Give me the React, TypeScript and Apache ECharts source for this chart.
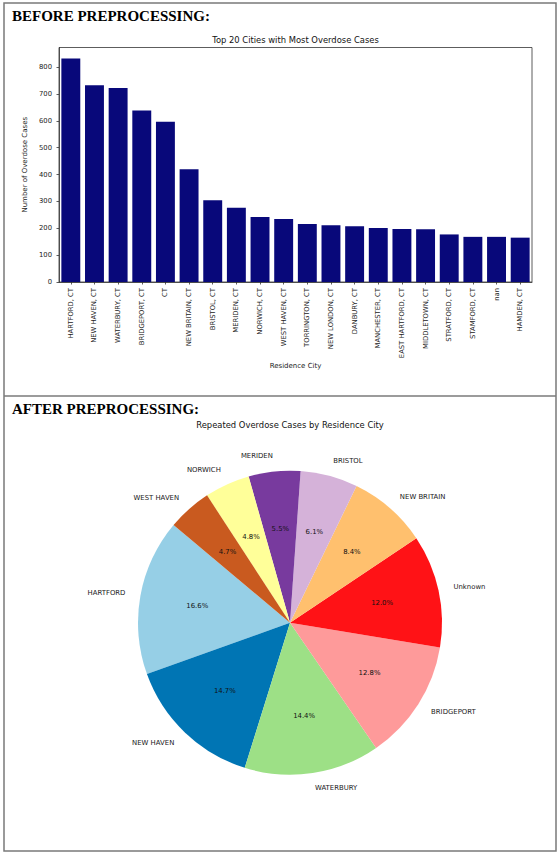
import React, { useEffect, useRef } from "react";
import * as echarts from "echarts";

const cities = [
  "HARTFORD, CT", "NEW HAVEN, CT", "WATERBURY, CT", "BRIDGEPORT, CT", "CT",
  "NEW BRITAIN, CT", "BRISTOL, CT", "MERIDEN, CT", "NORWICH, CT", "WEST HAVEN, CT",
  "TORRINGTON, CT", "NEW LONDON, CT", "DANBURY, CT", "MANCHESTER, CT", "EAST HARTFORD, CT",
  "MIDDLETOWN, CT", "STRATFORD, CT", "STAMFORD, CT", "nan", "HAMDEN, CT",
];
const caseCounts = [832, 732, 722, 638, 596, 420, 304, 276, 242, 234, 216, 211, 207, 201, 197, 196, 177, 168, 168, 165];
const yTicks = [0, 100, 200, 300, 400, 500, 600, 700, 800];

const pieCities = ["HARTFORD", "NEW HAVEN", "WATERBURY", "BRIDGEPORT", "Unknown", "NEW BRITAIN", "BRISTOL", "MERIDEN", "NORWICH", "WEST HAVEN"];
const pieShares = [16.6, 14.7, 14.4, 12.8, 12.0, 8.4, 6.1, 5.5, 4.8, 4.7];
const pieColors = ["#96cfe6", "#0075b4", "#9de086", "#fe9a9a", "#ff1216", "#ffc06e", "#d5b2d9", "#783a9e", "#ffff99", "#c95a1f"];

export default function App() {
  const ref = useRef<HTMLDivElement>(null);
  useEffect(() => {
    document.body.style.margin = "0";
    const chart = echarts.init(ref.current!, null, { renderer: "svg" });
    const font = "DejaVu Sans";
    const pieCenter = [290, 622.7];
    const pieR = 152;
    chart.setOption({
      animation: false,
      textStyle: { fontFamily: font },
      graphic: [
        { type: "rect", shape: { x: 4, y: 3, width: 552, height: 848 }, style: { fill: "none", stroke: "#7a7a7a", lineWidth: 1.5 } },
        { type: "line", shape: { x1: 4, y1: 396, x2: 556, y2: 396 }, style: { stroke: "#7a7a7a", lineWidth: 1.5 } },
        { type: "text", x: 12, y: 15.5, style: { text: "BEFORE PREPROCESSING:", font: 'bold 15px "Liberation Serif"', fill: "#000", align: "left", verticalAlign: "middle" } },
        { type: "text", x: 12, y: 408.5, style: { text: "AFTER PREPROCESSING:", font: 'bold 15px "Liberation Serif"', fill: "#000", align: "left", verticalAlign: "middle" } },
        { type: "text", x: 295.5, y: 40, style: { text: "Top 20 Cities with Most Overdose Cases", font: '8.4px "DejaVu Sans"', fill: "#111", align: "center", verticalAlign: "middle" } },
        { type: "text", x: 290, y: 425, style: { text: "Repeated Overdose Cases by Residence City", font: '8.4px "DejaVu Sans"', fill: "#111", align: "center", verticalAlign: "middle" } },
      ],
      grid: { left: 59, top: 47.5, width: 473, height: 234.5, show: true, borderColor: "#333", borderWidth: 0.8, containLabel: false },
      xAxis: {
        type: "category",
        data: cities,
        name: "Residence City",
        nameLocation: "middle",
        nameGap: 80,
        nameTextStyle: { fontSize: 7, color: "#222", fontFamily: font },
        axisLine: { show: true, lineStyle: { color: "#333", width: 0.8 } },
        axisTick: { show: true, alignWithLabel: true, length: 2.5, lineStyle: { color: "#333", width: 0.8 } },
        axisLabel: { interval: 0, rotate: 90, fontSize: 6.8, color: "#222", margin: 6, fontFamily: font },
        splitLine: { show: false },
      },
      yAxis: {
        type: "value",
        min: 0,
        max: 872.6,
        interval: 100,
        name: "Number of Overdose Cases",
        nameLocation: "middle",
        nameGap: 17,
        nameTextStyle: { fontSize: 7, color: "#222", fontFamily: font },
        axisLine: { show: true, lineStyle: { color: "#333", width: 0.8 } },
        axisTick: { show: true, length: 2.5, customValues: yTicks, lineStyle: { color: "#333", width: 0.8 } },
        axisLabel: { fontSize: 6.8, color: "#222", margin: 7, customValues: yTicks, fontFamily: font, formatter: (v: number) => (v % 100 === 0 ? String(v) : "") },
        splitLine: { show: false },
      },
      series: [
        {
          type: "bar",
          data: caseCounts,
          barWidth: "80%",
          itemStyle: { color: "#08087a" },
          silent: true,
        },
        {
          type: "pie",
          center: pieCenter,
          radius: pieR,
          startAngle: 140,
          clockwise: false,
          avoidLabelOverlap: false,
          silent: true,
          data: pieCities.map((n, i) => ({ name: n, value: pieShares[i], itemStyle: { color: pieColors[i] } })),
          label: { show: true, position: "outside", formatter: "{b}", fontSize: 6.9, color: "#222", fontFamily: font, distanceToLabelLine: 0 },
          labelLine: { show: false, length: pieR * 0.1, length2: 0 },
          emphasis: { disabled: true },
        },
        {
          type: "pie",
          center: pieCenter,
          radius: [pieR * 0.2, pieR],
          startAngle: 140,
          clockwise: false,
          avoidLabelOverlap: false,
          silent: true,
          data: pieCities.map((n, i) => ({ name: n, value: pieShares[i] })),
          itemStyle: { color: "rgba(0,0,0,0)" },
          label: { show: true, position: "inside", fontSize: 6.9, color: "#111", fontFamily: font, formatter: (p: any) => p.percent.toFixed(1) + "%" },
          labelLine: { show: false },
          emphasis: { disabled: true },
        },
      ],
    });
    return () => chart.dispose();
  }, []);
  return <div ref={ref} style={{ width: 559, height: 856 }} />;
}
